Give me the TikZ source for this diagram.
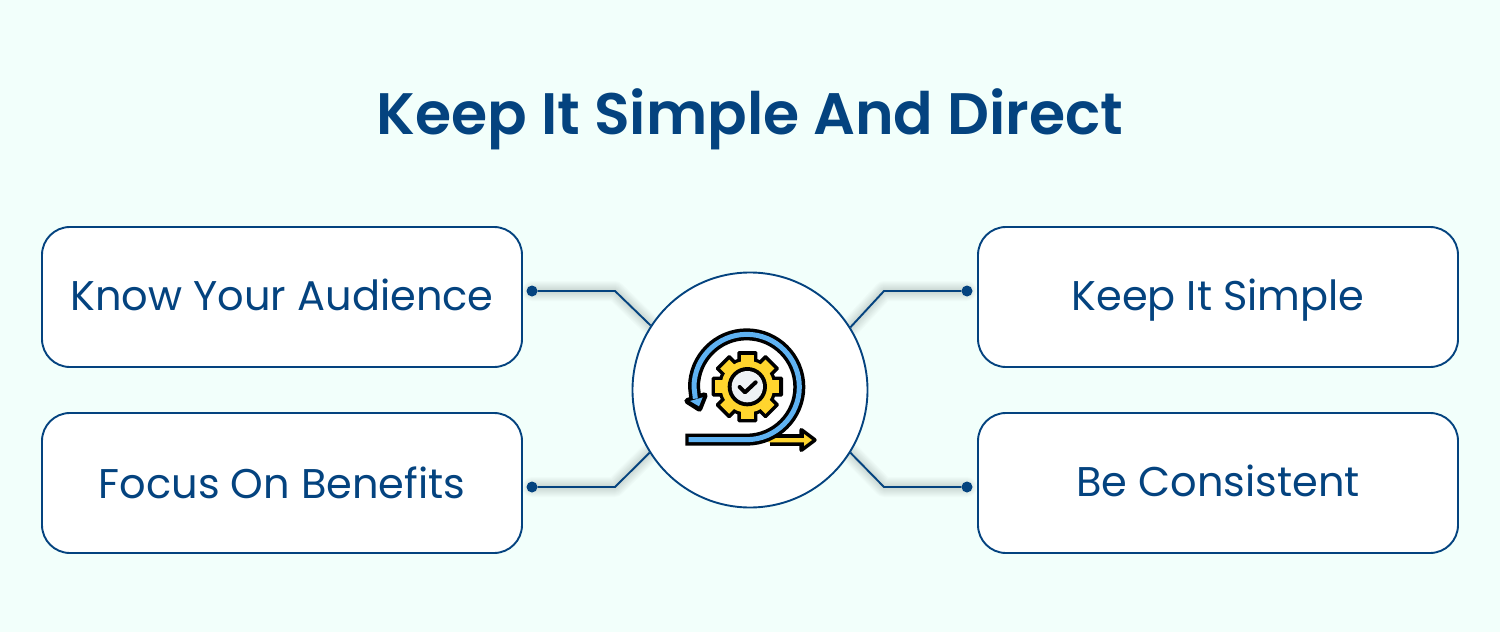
\documentclass[tikz,border=0pt]{standalone}
\usepackage{fontspec}
\setmainfont{Poppins}
\newfontfamily\titlefont{Poppins SemiBold}
\usetikzlibrary{backgrounds}
\definecolor{pagebg}{HTML}{F2FFFB}
\definecolor{navy}{HTML}{04437F}
\definecolor{skyblue}{HTML}{5FB2F2}
\definecolor{gearyellow}{HTML}{FFD52E}
\definecolor{dialgrey}{HTML}{EEF2F5}
\tikzset{
  x=1pt,y=-1pt,
  card/.style={draw=navy,line width=1.9pt,fill=white,rounded corners=28pt,minimum width=480pt,minimum height=140pt,inner sep=0pt,text=navy,text height=33pt,text depth=6pt,font=\fontsize{41.5}{48}\selectfont},
  hubnode/.style={circle,draw=navy,line width=1.9pt,fill=white,minimum size=235pt,inner sep=0pt},
  pin/.style={circle,fill=navy,minimum size=11pt,inner sep=0pt},
  wire/.style={draw=navy,line width=1.9pt},
  glow/.style={draw=black,opacity=0.016,line cap=round,line join=round},
  inkline/.style={draw=black,line width=12pt,line join=round,line cap=butt},
  blueline/.style={draw=skyblue,line width=5pt,line join=round,line cap=butt},
}
\newcommand{\softshadow}[1]{%
  \foreach \wd in {2,4,6,8,10,12,14,16,18,20}{\draw[glow,line width=\wd pt,yshift=-9pt] #1;}}
\begin{document}
\begin{tikzpicture}
\useasboundingbox (0,0) rectangle (1500,632);
\node[font=\titlefont\fontsize{58.5}{68}\selectfont,text=navy] (title) at (750,119) {Keep It Simple And Direct};
\node[card] (audience) at (282,297) {Know Your Audience};
\node[card,text height=36pt] (benefits) at (282,483) {Focus On Benefits};
\node[card] (simple) at (1218,297) {Keep It Simple};
\node[card] (consistent) at (1218,483) {Be Consistent};
\node[hubnode] (hub) at (750,390) {};
\node[pin] (p1) at (532,291) {};
\node[pin] (p2) at (532,487) {};
\node[pin] (p3) at (967,291) {};
\node[pin] (p4) at (967,487) {};
\coordinate (b1) at (615,291);
\coordinate (b2) at (615,487);
\coordinate (b3) at (884,291);
\coordinate (b4) at (884,487);
\begin{scope}[on background layer]
  \fill[pagebg] (0,0) rectangle (1500,632);
  \softshadow{(p1.center) -- (b1) -- (hub.147.8)}
  \softshadow{(p2.center) -- (b2) -- (hub.212.2)}
  \softshadow{(p3.center) -- (b3) -- (hub.32.2)}
  \softshadow{(p4.center) -- (b4) -- (hub.-32.2)}
\end{scope}
\draw[wire] (p1) -- (b1) -- (hub.147.8);
\draw[wire] (p2) -- (b2) -- (hub.212.2);
\draw[wire] (p3) -- (b3) -- (hub.32.2);
\draw[wire] (p4) -- (b4) -- (hub.-32.2);
% icon, in coordinates of a 3x crop
\begin{scope}[shift={(630pt,-270pt)},x=0.33333pt,y=-0.33333pt]
  % gear
  \fill[black] (352,350) circle[radius=88];
  \foreach \a in {0,45,...,315}{
    \fill[black,rotate around={\a:(352,350)},rounded corners=1.5pt] (322,243) rectangle (382,300);
  }
  \foreach \a in {0,45,...,315}{
    \fill[gearyellow,rotate around={\a:(352,350)}] (333,254) rectangle (371,300);
  }
  \fill[gearyellow] (352,350) circle[radius=78];
  \fill[black] (352,350) circle[radius=59];
  \fill[dialgrey] (352,350) circle[radius=47];
  \draw[black,line width=4pt,line cap=round,line join=round] (329,351) -- (345,367) -- (377,337);
  % yellow arrow
  \draw[black,line width=12pt] (420,510) -- (520,510);
  \filldraw[black,line width=4pt,line join=round] (514,480) -- (554,510) -- (514,540) -- cycle;
  \fill[gearyellow] (415,504) -- (522,504) -- (522,492) -- (546,510) -- (522,528) -- (522,517) -- (415,517) -- cycle;
  % spiral
  \draw[inkline] (166,509) -- (350,509) .. controls (437,509) and (508,438) .. (508,351)
     .. controls (508,264) and (437,193) .. (350,193)
     .. controls (263,193) and (192,264) .. (192,351) -- (196,386);
  \filldraw[black,line width=6pt,line join=round] (172,393) -- (208,416) -- (224,376) -- cycle;
  \draw[blueline] (176,509) -- (350,509) .. controls (437,509) and (508,438) .. (508,351)
     .. controls (508,264) and (437,193) .. (350,193)
     .. controls (263,193) and (192,264) .. (192,351) -- (196,386);
  \fill[skyblue] (180,393) -- (207,409) -- (218,382) -- cycle;
\end{scope}
\end{tikzpicture}
\end{document}
